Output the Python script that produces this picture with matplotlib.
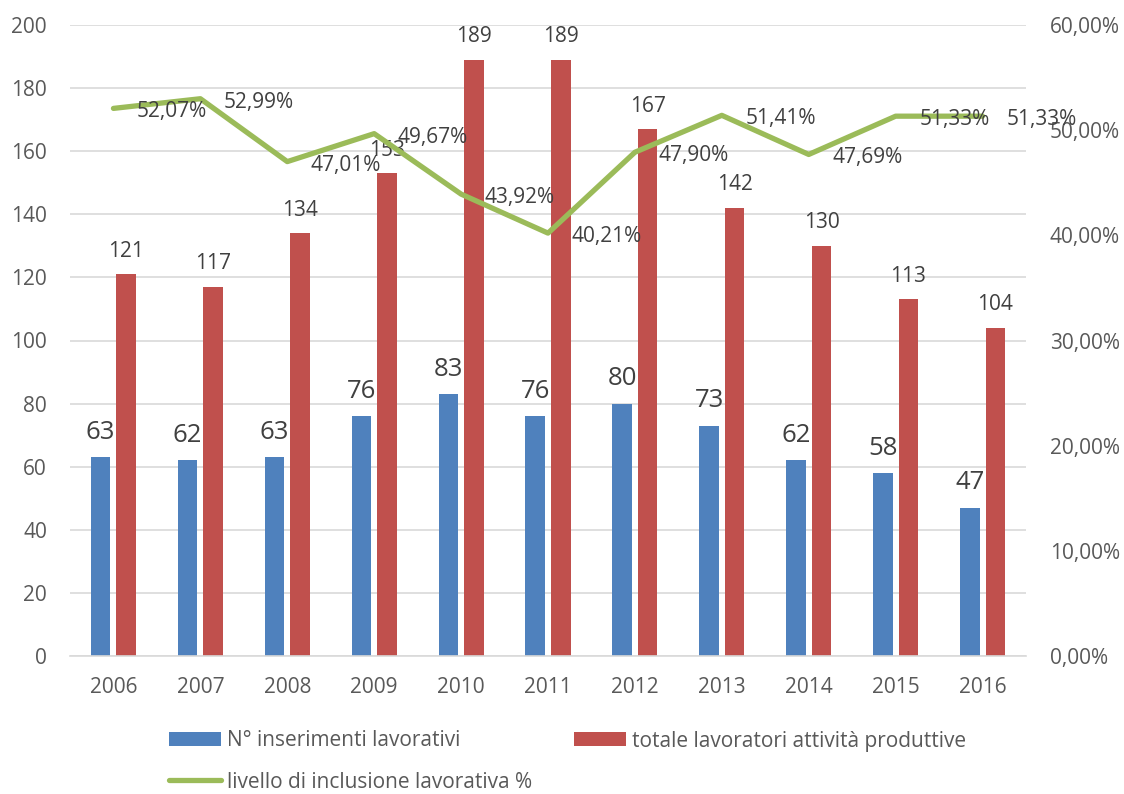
import matplotlib
matplotlib.use("Agg")
import matplotlib.pyplot as plt
import numpy as np
from matplotlib.patches import Patch
from matplotlib.lines import Line2D

plt.rcParams['font.family'] = ['Open Sans', 'DejaVu Sans']

years = ['2006', '2007', '2008', '2009', '2010', '2011', '2012', '2013', '2014', '2015', '2016']
inserimenti = [63, 62, 63, 76, 83, 76, 80, 73, 62, 58, 47]
totale = [121, 117, 134, 153, 189, 189, 167, 142, 130, 113, 104]
inclusione = [52.07, 52.99, 47.01, 49.67, 43.92, 40.21, 47.90, 51.41, 47.69, 51.33, 51.33]

blue = '#4F81BD'
red = '#C0504D'
green = '#9BBB59'
grid = '#D9D9D9'
txt = '#595959'
lbl = '#404040'

W, H = 1124, 794
fig = plt.figure(figsize=(W / 100, H / 100), dpi=100)
ax = fig.add_axes([70 / W, 1 - 656 / H, (1026 - 70) / W, (656 - 25) / H])

x = np.arange(len(years))
bw = 0.225
off = 0.147
ax.bar(x - off, inserimenti, width=bw, color=blue, zorder=2)
ax.bar(x + off, totale, width=bw, color=red, zorder=2)

ax.set_xlim(-0.5, len(years) - 0.5)
ax.set_ylim(0, 200)
ax.set_yticks(range(0, 201, 20))
ax.grid(axis='y', color=grid, linewidth=1.2, zorder=0)
ax.set_axisbelow(True)
for s in ['top', 'right', 'left']:
    ax.spines[s].set_visible(False)
ax.spines['bottom'].set_color(grid)
ax.spines['bottom'].set_linewidth(1.2)
ax.set_xticks(x)
ax.set_xticklabels(years)
ax.tick_params(axis='both', length=0, labelsize=15, labelcolor=txt)
ax.tick_params(axis='y', pad=16.5)
ax.tick_params(axis='x', pad=15)

ax2 = ax.twinx()
ax2.set_ylim(0, 60)
ax2.set_yticks(range(0, 61, 10))
ax2.set_yticklabels([f"{v},00%" for v in range(0, 61, 10)])
for s in ax2.spines.values():
    s.set_visible(False)
ax2.tick_params(axis='y', length=0, labelsize=15, labelcolor=txt, pad=17)
ax2.plot(x, inclusione, color=green, linewidth=3.8, solid_capstyle='round', zorder=3)

# data labels
for i in range(len(years)):
    ax.annotate(str(inserimenti[i]), (x[i] - off, inserimenti[i]), xytext=(0, 9),
                textcoords='offset points', ha='center', va='bottom', fontsize=18.5, color=lbl, zorder=5)
    ax.annotate(str(totale[i]), (x[i] + off, totale[i]), xytext=(0, 9),
                textcoords='offset points', ha='center', va='bottom', fontsize=15, color=lbl, zorder=5)
    ax2.annotate(f"{inclusione[i]:.2f}%".replace('.', ','), (x[i], inclusione[i]), xytext=(17, -2.5),
                 textcoords='offset points', ha='left', va='center', fontsize=15, color=lbl, zorder=5)

fs = 15
common = dict(frameon=False, fontsize=fs, labelcolor=txt, handlelength=2.5, handleheight=0.68,
              handletextpad=0.3, borderpad=0, borderaxespad=0, loc='center left')
fig.legend([Patch(facecolor=blue)], ['N° inserimenti lavorativi'],
           bbox_to_anchor=(169 / W, 1 - 741 / H), **common)
fig.legend([Patch(facecolor=red)], ['totale lavoratori attività produttive'],
           bbox_to_anchor=(574 / W, 1 - 741 / H), **common)
fig.legend([Line2D([0], [0], color=green, linewidth=3.8, solid_capstyle='round')],
           ['livello di inclusione lavorativa %'],
           bbox_to_anchor=(169 / W, 1 - 782 / H), **common)

fig.savefig('out.png', dpi=100)
